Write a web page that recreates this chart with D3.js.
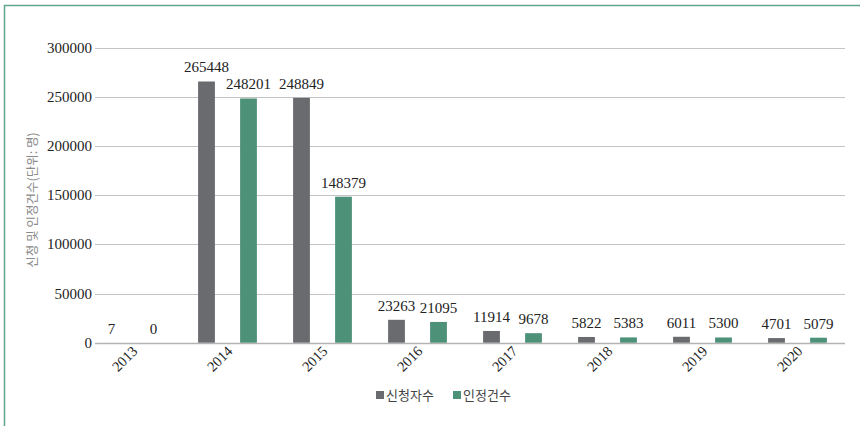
<!DOCTYPE html>
<html>
<head>
<meta charset="utf-8">
<script src="https://cdn.jsdelivr.net/npm/d3@7"></script>
<style>
  body { margin: 0; background: #fff; }
</style>
</head>
<body>
<div id="container"></div>
<script>
// chart values
const years = ["2013", "2014", "2015", "2016", "2017", "2018", "2019", "2020"];
const applicants = [7, 265448, 248849, 23263, 11914, 5822, 6011, 4701];
const approved = [0, 248201, 148379, 21095, 9678, 5383, 5300, 5079];
const seriesNames = ["신청자수", "인정건수"];
const yTicks = [0, 50000, 100000, 150000, 200000, 250000, 300000];

const width = 860;
const height = 426;
const colors = ["#6a6b6f", "#4e9179"];
const serif = "'Liberation Serif', 'DejaVu Serif', serif";
const korean = "'Noto Sans CJK KR', 'Noto Sans', sans-serif";

const svg = d3.select("#container").append("svg")
  .attr("width", width)
  .attr("height", height);

// green frame, only top and left edges are visible in the crop
svg.append("path")
  .attr("d", `M4.5,${height} V5.5 H${width}`)
  .attr("fill", "none")
  .attr("stroke", "#5fa58c")
  .attr("stroke-width", 1.5);

const plot = { left: 95, right: 845, top: 47.5, bottom: 342.7 };

const y = d3.scaleLinear()
  .domain([0, 300000])
  .range([plot.bottom, plot.top]);

// bars sit slightly left of the gridline start, as in the original
const x = d3.scaleBand()
  .domain(years)
  .range([85, 845]);

// two bars per year, centres 42px apart
const x1 = d3.scaleBand()
  .domain([0, 1])
  .range([x.bandwidth() / 2 - 42, x.bandwidth() / 2 + 42])
  .paddingInner(0.6)
  .paddingOuter(0.3);

// gridlines
svg.append("g")
  .selectAll("line")
  .data(yTicks)
  .join("line")
  .attr("x1", plot.left)
  .attr("x2", plot.right)
  .attr("y1", d => Math.round(y(d)) + 0.5)
  .attr("y2", d => Math.round(y(d)) + 0.5)
  .attr("stroke", d => d === 0 ? "#b3b3b3" : "#c4c4c4")
  .attr("stroke-width", d => d === 0 ? 1.5 : 1);

// y tick labels
svg.append("g")
  .selectAll("text")
  .data(yTicks)
  .join("text")
  .attr("x", 92)
  .attr("y", d => y(d) + 5)
  .attr("text-anchor", "end")
  .attr("font-family", serif)
  .attr("font-size", 15)
  .attr("fill", "#222")
  .text(d => d);

// y axis title
svg.append("text")
  .attr("transform", `translate(37,200) rotate(-90)`)
  .attr("text-anchor", "middle")
  .attr("font-family", korean)
  .attr("font-size", 12.5)
  .attr("fill", "#8a8a8a")
  .text("신청 및 인정건수(단위: 명)");

const rows = years.map((yr, i) => ({ year: yr, values: [applicants[i], approved[i]] }));

const groups = svg.append("g")
  .selectAll("g")
  .data(rows)
  .join("g")
  .attr("transform", d => `translate(${x(d.year)},0)`);

groups.selectAll("rect")
  .data(d => d.values.map((v, k) => ({ v, k })))
  .join("rect")
  .attr("x", d => x1(d.k))
  .attr("width", x1.bandwidth())
  .attr("y", d => y(d.v))
  .attr("height", d => plot.bottom - y(d.v))
  .attr("fill", d => colors[d.k]);

groups.selectAll("text.val")
  .data(d => d.values.map((v, k) => ({ v, k })))
  .join("text")
  .attr("class", "val")
  .attr("x", d => x1(d.k) + x1.bandwidth() / 2)
  .attr("y", d => y(d.v) - 9)
  .attr("text-anchor", "middle")
  .attr("font-family", serif)
  .attr("font-size", 15)
  .attr("fill", "#222")
  .text(d => d.v);

// rotated year labels
svg.append("g")
  .selectAll("text")
  .data(years)
  .join("text")
  .attr("transform", d => `translate(${x(d) + x.bandwidth() / 2 + 6},352) rotate(-45)`)
  .attr("text-anchor", "end")
  .attr("font-family", serif)
  .attr("font-size", 14.5)
  .attr("fill", "#222")
  .text(d => d);

// legend
const legend = svg.append("g")
  .selectAll("g")
  .data(seriesNames)
  .join("g")
  .attr("transform", (d, i) => `translate(${376 + i * 77},395)`);

legend.append("rect")
  .attr("x", 0)
  .attr("y", -4)
  .attr("width", 8)
  .attr("height", 8)
  .attr("fill", (d, i) => colors[i]);

legend.append("text")
  .attr("x", 10)
  .attr("y", 5)
  .attr("font-family", korean)
  .attr("font-size", 13)
  .attr("fill", "#444")
  .text(d => d);
</script>
</body>
</html>
